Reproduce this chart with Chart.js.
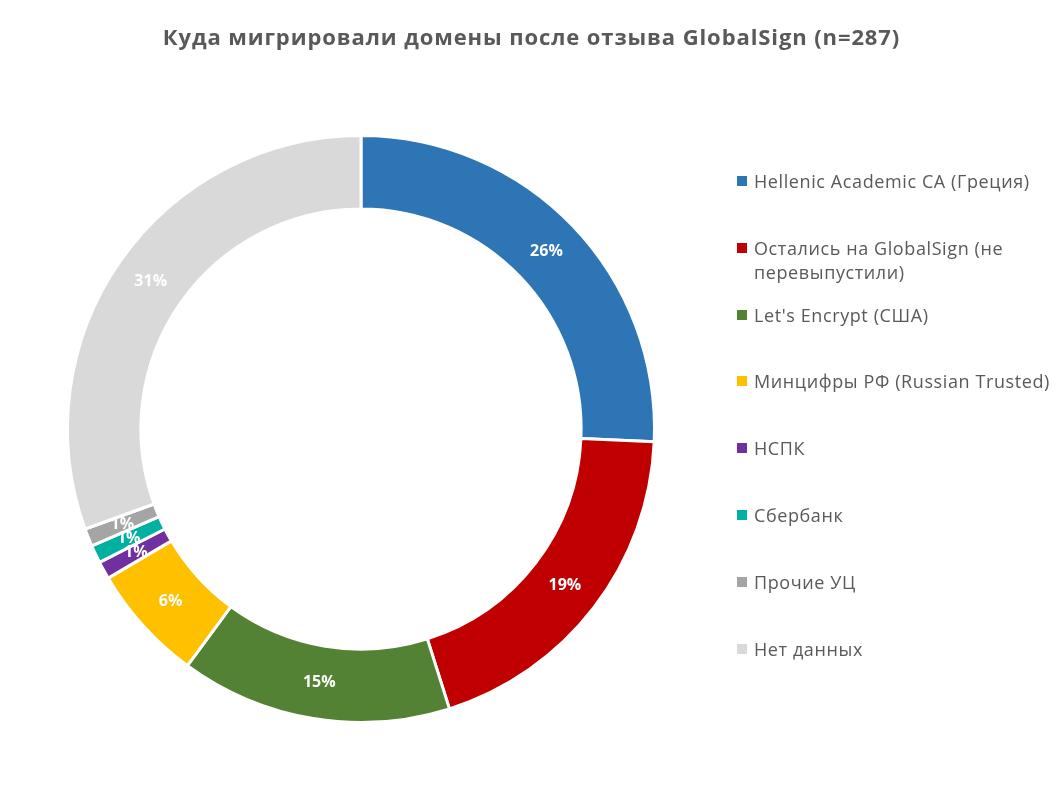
<!DOCTYPE html>
<html lang="ru">
<head>
<meta charset="utf-8">
<script src="https://cdn.jsdelivr.net/npm/chart.js@4/dist/chart.umd.min.js"></script>
<style>
  html, body { margin: 0; padding: 0; background: #fff; }
  #wrap { position: relative; width: 1063px; height: 793px; overflow: hidden; }
  #c { position: absolute; left: 0; top: 0; }
  #title { position: absolute; left: 0; top: 21px; width: 1063px; text-align: center;
    font-family: "Open Sans", sans-serif; font-weight: 700; font-size: 22px; letter-spacing: 0.9px; color: #595959; }
  #legend { position: absolute; left: 737px; top: 0; width: 326px;
    font-family: "Open Sans", sans-serif; font-size: 18px; letter-spacing: 0.6px; color: #595959; }
  .item { position: absolute; left: 0; width: 320px; line-height: 24px; }
  .sw { position: absolute; left: 0; top: 7px; width: 10px; height: 10px; }
  .tx { margin-left: 17px; width: 300px; }
</style>
</head>
<body>
<div id="wrap">
  <canvas id="c" width="1063" height="793"></canvas>
  <div id="title">Куда мигрировали домены после отзыва GlobalSign (n=287)</div>
  <div id="legend"></div>
</div>
<script>
const categories = [
  "Hellenic Academic CA (Греция)",
  "Остались на GlobalSign (не перевыпустили)",
  "Let's Encrypt (США)",
  "Минцифры РФ (Russian Trusted)",
  "НСПК",
  "Сбербанк",
  "Прочие УЦ",
  "Нет данных"
];
// shares of domains, percent
const shares = [25.7, 19.45, 14.95, 6.45, 0.98, 0.98, 0.99, 30.55];
const colors = ["#2E75B6", "#C00000", "#548235", "#FFC000", "#7030A0", "#00B0A0", "#A5A5A5", "#D9D9D9"];

const total = shares.reduce((a, b) => a + b, 0);

const labelPlugin = {
  id: 'pctLabels',
  afterDatasetsDraw(chart) {
    const ctx = chart.ctx;
    const meta = chart.getDatasetMeta(0);
    ctx.save();
    ctx.font = 'bold 16px "Open Sans", sans-serif';
    ctx.fillStyle = '#FFFFFF';
    ctx.textAlign = 'center';
    ctx.textBaseline = 'middle';
    meta.data.forEach((arc, i) => {
      const p = arc.getCenterPoint();
      const pct = Math.round(shares[i] / total * 100);
      ctx.fillText(pct + '%', p.x, p.y);
    });
    ctx.restore();
  }
};

new Chart(document.getElementById('c'), {
  type: 'doughnut',
  data: {
    labels: categories,
    datasets: [{
      data: shares,
      backgroundColor: colors,
      borderColor: '#FFFFFF',
      borderWidth: 3
    }]
  },
  options: {
    responsive: false,
    animation: false,
    cutout: '75%',
    layout: { padding: { left: 66, right: 407, top: 134, bottom: 69 } },
    plugins: {
      legend: { display: false },
      tooltip: { enabled: false }
    }
  },
  plugins: [labelPlugin]
});

// HTML legend built from the data arrays
const legend = document.getElementById('legend');
const firstTop = 169, slot = 66.8;
categories.forEach((name, i) => {
  const it = document.createElement('div');
  it.className = 'item';
  it.style.top = (firstTop + i * slot) + 'px';
  const sw = document.createElement('div');
  sw.className = 'sw';
  sw.style.background = colors[i];
  const tx = document.createElement('div');
  tx.className = 'tx';
  tx.textContent = name;
  it.appendChild(sw);
  it.appendChild(tx);
  legend.appendChild(it);
});
</script>
</body>
</html>
